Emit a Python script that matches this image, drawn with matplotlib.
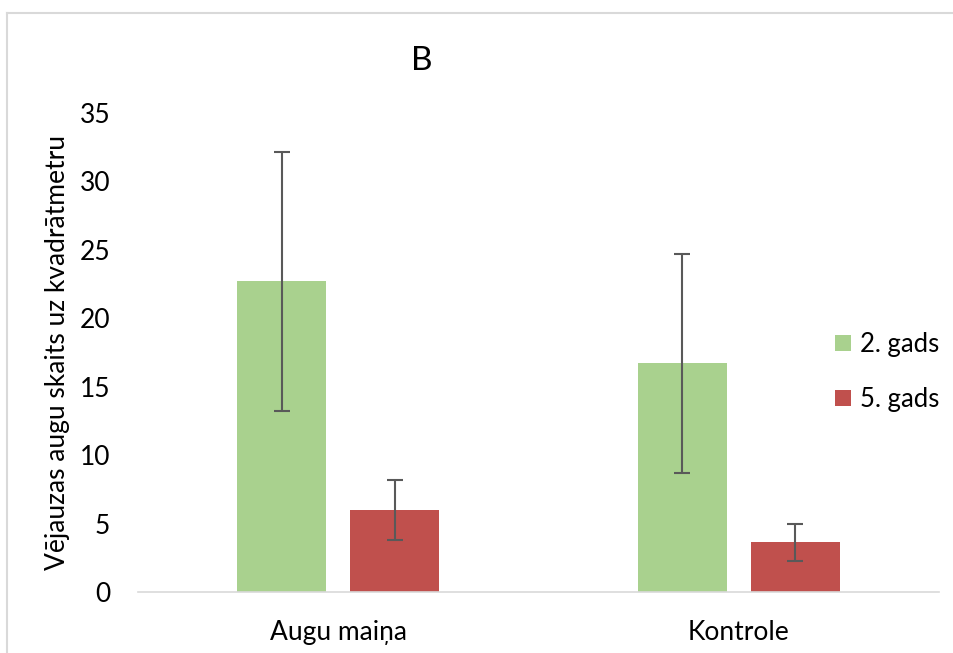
import matplotlib
matplotlib.use("Agg")
import matplotlib.pyplot as plt
import numpy as np
from matplotlib.patches import Patch
from matplotlib.lines import Line2D

plt.rcParams["font.family"] = ["Lato", "DejaVu Sans"]

categories = ["Augu maiņa", "Kontrole"]
series_names = ["2. gads", "5. gads"]
year2_values = [22.7, 16.7]
year2_errors = [9.45, 8.0]
year5_values = [6.0, 3.65]
year5_errors = [2.2, 1.35]

colors = ["#A9D18E", "#C0504D"]
err_color = "#595959"
fs = 19

fig = plt.figure(figsize=(9.54, 6.53), dpi=100)
ax = fig.add_axes([138 / 954, 61 / 653, 801 / 954, 479 / 653])

x = np.arange(len(categories))
width = 0.222
offset = 0.1415

ax.bar(x - offset, year2_values, width, color=colors[0],
       yerr=year2_errors, error_kw=dict(ecolor=err_color, elinewidth=1.5, capsize=6, capthick=1.5))
ax.bar(x + offset, year5_values, width, color=colors[1],
       yerr=year5_errors, error_kw=dict(ecolor=err_color, elinewidth=1.5, capsize=6, capthick=1.5))

ax.set_xlim(-0.5, 1.5)
ax.set_ylim(0, 35)
ax.set_yticks(range(0, 36, 5))
ax.set_xticks(x)
ax.set_xticklabels(categories)
ax.tick_params(axis="both", length=0, labelsize=fs, colors="#000000")
ax.tick_params(axis="y", pad=20)
ax.tick_params(axis="x", pad=20)

for side in ["top", "right", "left"]:
    ax.spines[side].set_visible(False)
ax.spines["bottom"].set_color("#D9D9D9")
ax.spines["bottom"].set_linewidth(1.2)

ax.set_ylabel("Vējauzas augu skaits uz kvadrātmetru", fontsize=fs, labelpad=7)

fig.text(422 / 954, 1 - 61 / 653, "B", ha="center", va="center", fontsize=24)

handles = [Patch(facecolor=c, edgecolor="none") for c in colors]
fig.legend(handles, series_names, loc="center left",
           bbox_to_anchor=(812 / 954, 1 - 372 / 653), frameon=False,
           fontsize=18.5, handlelength=0.6, handleheight=0.6,
           handletextpad=0.35, labelspacing=1.15)

# light frame around the chart area
fig.add_artist(Line2D([7 / 954, 7 / 954], [0, 1 - 13 / 653], color="#D9D9D9", lw=1.5))
fig.add_artist(Line2D([7 / 954, 1], [1 - 13 / 653, 1 - 13 / 653], color="#D9D9D9", lw=1.5))

fig.savefig("out.png", dpi=100)
